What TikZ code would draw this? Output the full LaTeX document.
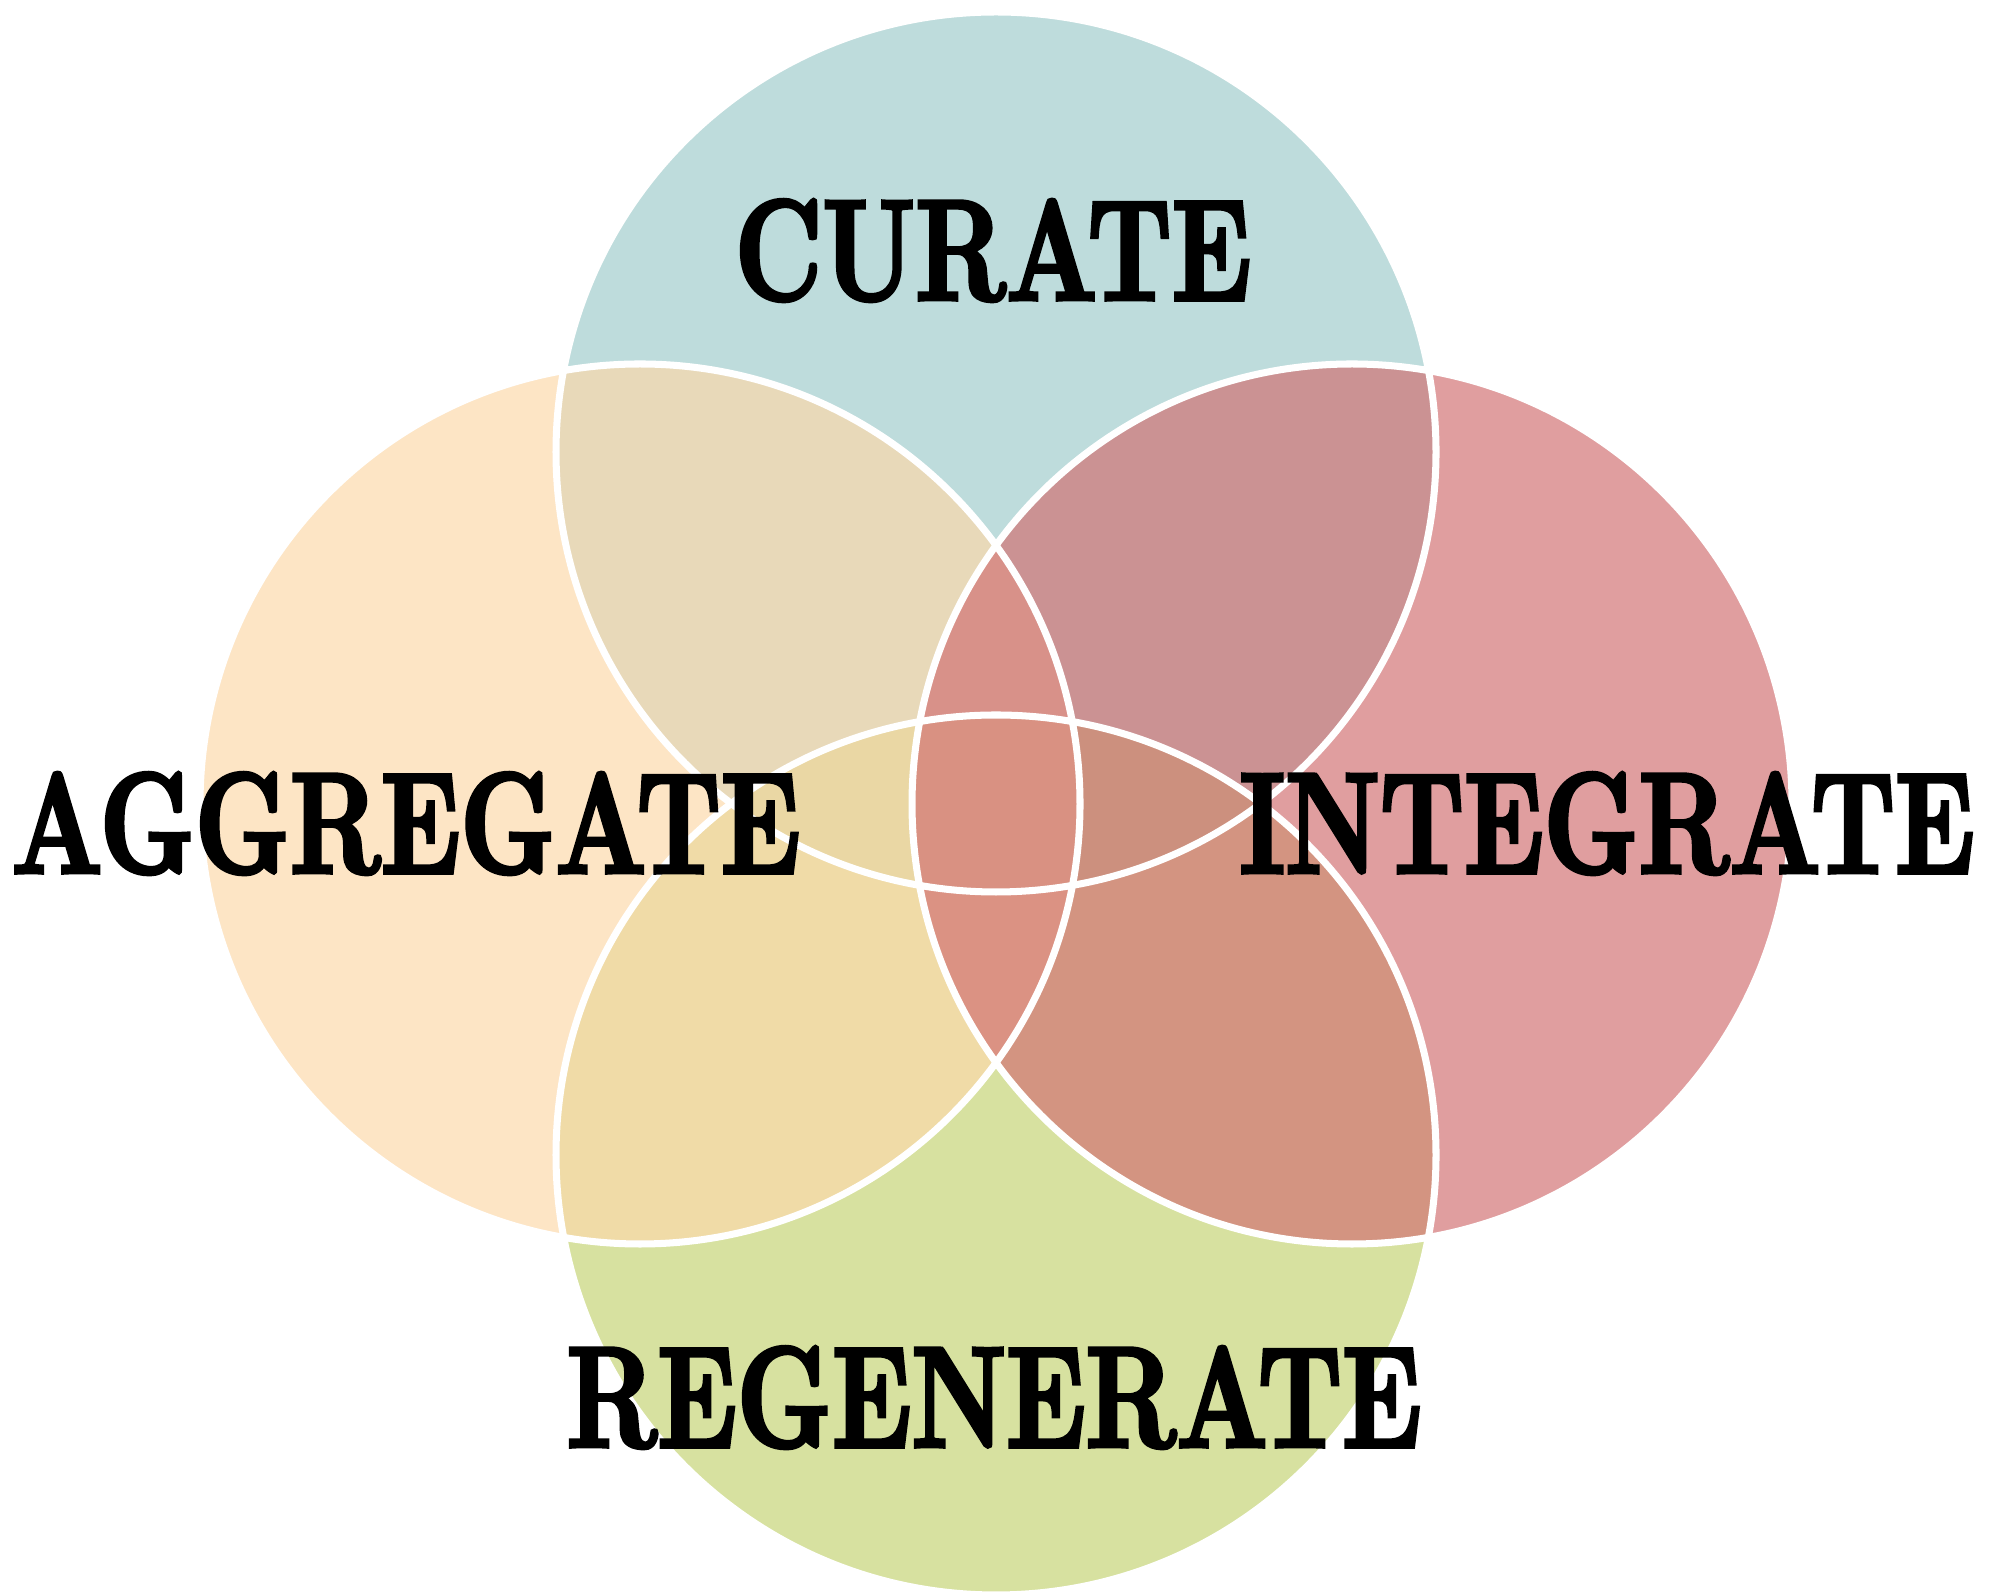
\documentclass[tikz,border=0pt]{standalone}
\usepackage{fontspec}
\usepackage{xcolor}
\usepackage{tikz}
\usetikzlibrary{positioning}

\newfontfamily\wordfont[Extension=.otf,FakeStretch=0.73,FakeBold=2.5]{lmroman10-bold}
\definecolor{curateteal}{RGB}{161,204,204}
\definecolor{aggpeach}{RGB}{252,217,171}
\definecolor{integrose}{RGB}{210,114,116}
\definecolor{regengreen}{RGB}{197,212,117}

\begin{document}
\begin{tikzpicture}[
    petal/.style={fill opacity=0.69},
    rim/.style={draw=white, line width=2pt},
    word/.style={font=\wordfont\fontsize{41}{41}\selectfont, anchor=base, inner sep=0pt}
  ]
  \useasboundingbox (0,0) rectangle (20.07,15.94);

  % four overlapping circles, top and bottom first
  \fill[petal, curateteal] (9.96,11.42) circle (4.40cm);
  \fill[petal, regengreen] (9.96,4.39) circle (4.40cm);
  \fill[petal, aggpeach] (6.40,7.90) circle (4.40cm);
  \fill[petal, integrose] (13.52,7.90) circle (4.40cm);

  % white rims over all fills
  \draw[rim] (9.96,11.42) circle (4.40cm);
  \draw[rim] (9.96,4.39) circle (4.40cm);
  \draw[rim] (6.40,7.90) circle (4.40cm);
  \draw[rim] (13.52,7.90) circle (4.40cm);

  % labels
  \node[word] (curate) at (9.93,12.94) {CURATE};
  \node[word] (aggregate) at (4.06,7.21) {AGGREGATE};
  \node[word] (integrate) at (16.07,7.21) {INTEGRATE};
  \node[word] (regenerate) at (9.94,1.47) {REGENERATE};
\end{tikzpicture}
\end{document}
